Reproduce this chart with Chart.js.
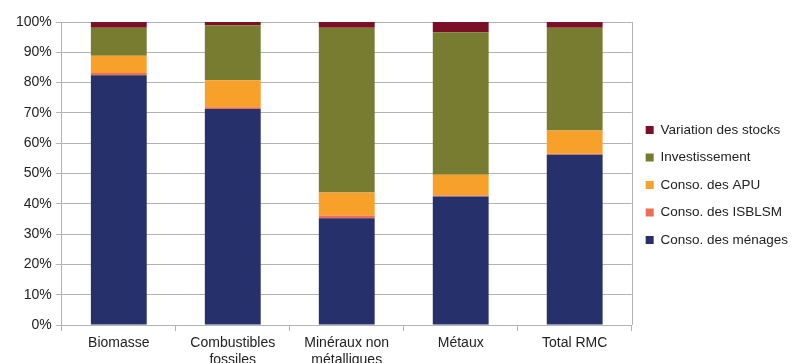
<!DOCTYPE html>
<html lang="fr">
<head>
<meta charset="utf-8">
<script src="https://cdn.jsdelivr.net/npm/chart.js@4/dist/chart.umd.min.js"></script>
<style>
  html, body { margin: 0; padding: 0; background: #fff; }
  #wrap { width: 810px; height: 363px; overflow: hidden; }
</style>
</head>
<body>
<div id="wrap"><canvas id="chart" width="810" height="363"></canvas></div>
<script>
/* ── Data (parts en % par catégorie de matière) ─────────── */

const categories = ['Biomasse', ['Combustibles', 'fossiles'], ['Minéraux non', 'métalliques'], 'Métaux', 'Total RMC'];

const menages       = [82.4, 71.3, 35.2, 42.4, 56.2];
const isblsm        = [0.8, 0.6, 0.9, 0.3, 0.3];
const apu           = [5.7, 8.9, 7.6, 6.9, 7.7];
const investissement = [9.2, 18.1, 54.4, 47.0, 33.9];
const stocks        = [1.9, 1.1, 1.9, 3.4, 1.9];

const yTicks = [0, 10, 20, 30, 40, 50, 60, 70, 80, 90, 100];

/* ── Style ──────────────────────────────────────────────── */

const GRID = '#b3b3b3';
const TEXT = '#222';
const FONT = '"Liberation Sans", Arial, sans-serif';

// frame line on the right edge of the plot
const plotFrame = {
  id: 'plotFrame',
  afterDraw(chart) {
    const { ctx, chartArea: a } = chart;
    ctx.save();
    ctx.strokeStyle = GRID;
    ctx.lineWidth = 1;
    ctx.beginPath();
    ctx.moveTo(Math.round(a.right) + 0.5, a.top);
    ctx.lineTo(Math.round(a.right) + 0.5, a.bottom);
    ctx.stroke();
    ctx.restore();
  },
};

function series(label, data, color) {
  return {
    label,
    data,
    backgroundColor: color,
    borderWidth: 0,
    barPercentage: 0.49,
    categoryPercentage: 1,
  };
}

// eslint-disable-next-line no-undef
new Chart(document.getElementById('chart'), {
  type: 'bar',
  data: {
    labels: categories,
    datasets: [
      series('Conso. des ménages', menages, '#26306a'),
      series('Conso. des ISBLSM', isblsm, '#ee6e55'),
      series('Conso. des APU', apu, '#f7a12b'),
      series('Investissement', investissement, '#777c31'),
      series('Variation des stocks', stocks, '#7b0f27'),
    ],
  },
  options: {
    responsive: false,
    animation: false,
    layout: { padding: { top: 22, left: 12, right: 12, bottom: 0 } },
    plugins: {
      tooltip: { enabled: false },
      legend: {
        position: 'right',
        fullSize: false,
        reverse: true,
        // empty title only nudges the entries down a bit
        title: { display: true, text: '', font: { size: 13.5 }, padding: 3.5 },
        labels: {
          boxWidth: 8,
          boxHeight: 8,
          padding: 14,
          color: TEXT,
          font: { family: FONT, size: 13.5 },
        },
      },
    },
    scales: {
      x: {
        stacked: true,
        // wrapped labels run past the bottom edge, keep the axis band short
        afterFit: (axis) => { axis.height = 38; },
        grid: { drawOnChartArea: false, drawTicks: true, tickLength: 6, color: GRID },
        border: { color: GRID },
        ticks: { color: TEXT, padding: 4, maxRotation: 0, autoSkip: false, font: { family: FONT, size: 14 } },
      },
      y: {
        stacked: true,
        min: 0,
        max: 100,
        afterBuildTicks: (axis) => { axis.ticks = yTicks.map(v => ({ value: v })); },
        grid: { color: GRID, tickLength: 6 },
        border: { color: GRID },
        ticks: {
          color: TEXT,
          padding: 4,
          font: { family: FONT, size: 14 },
          callback: (v) => v + '%',
        },
      },
    },
  },
  plugins: [plotFrame],
});
</script>
</body>
</html>
